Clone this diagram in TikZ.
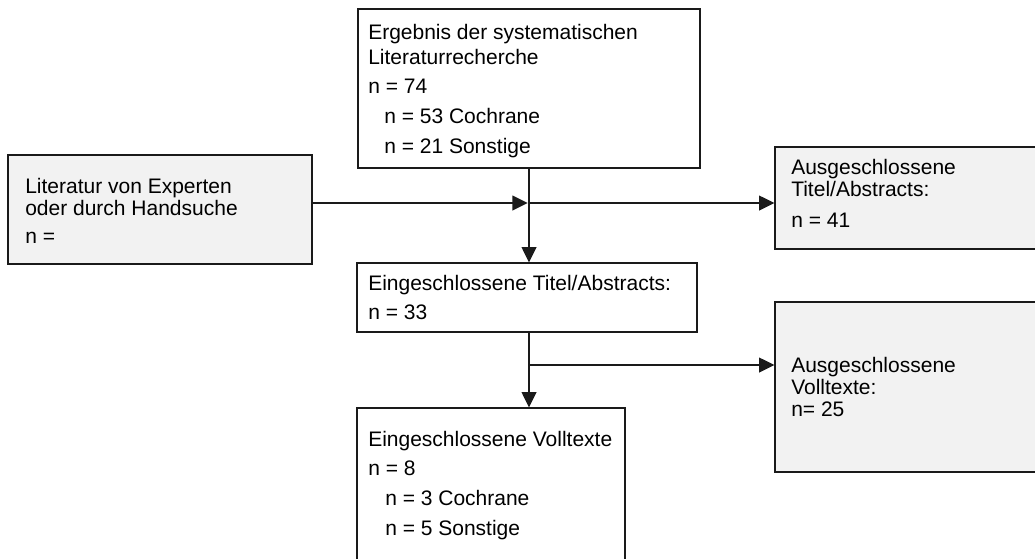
\documentclass[tikz,border=0pt]{standalone}
\usepackage{fontspec}
\setmainfont{Liberation Sans}
\usetikzlibrary{arrows.meta,fit}
\definecolor{boxgrey}{HTML}{F2F2F2}
\definecolor{linegrey}{HTML}{1A1A1A}
\begin{document}
\begin{tikzpicture}[x=0.75pt,y=-0.75pt,
  box/.style={draw=linegrey,line width=0.9pt,fill=white,inner sep=0pt},
  greybox/.style={box,fill=boxgrey},
  txt/.style={anchor=base west,inner sep=0pt,font=\fontsize{15.75}{18}\selectfont,text=black},
  conn/.style={draw=linegrey,line width=1.4pt,-{Triangle[length=11.5pt,width=11pt]}}]
\useasboundingbox (0,0) rectangle (1035,558);
\clip (0,0) rectangle (1035,558);

% boxes
\node[box,fit={(358,9) (700,168)}] (top) {};
\node[greybox,fit={(8,155) (312,264)}] (left) {};
\node[greybox,fit={(775,147) (1045,249)}] (rtop) {};
\node[box,fit={(357,263) (697,332)}] (mid) {};
\node[greybox,fit={(775,302) (1045,472)}] (rbot) {};
\node[box,fit={(357,408) (625,575)}] (bot) {};

% texts
\node[txt] (t1) at (368,39) {Ergebnis der systematischen};
\node[txt] (t2) at (368,64) {Literaturrecherche};
\node[txt] (t3) at (368,93) {n = 74};
\node[txt] (t4) at (384,123) {n = 53 Cochrane};
\node[txt] (t5) at (384,153) {n = 21 Sonstige};

\node[txt] (l1) at (25,193) {Literatur von Experten};
\node[txt] (l2) at (25,215) {oder durch Handsuche};
\node[txt] (l3) at (25,243) {n =};

\node[txt] (r1) at (791,174) {Ausgeschlossene};
\node[txt] (r2) at (791,196) {Titel/Abstracts:};
\node[txt] (r3) at (791,227) {n = 41};

\node[txt] (m1) at (368,290) {Eingeschlossene Titel/Abstracts:};
\node[txt] (m2) at (368,319) {n = 33};

\node[txt] (s1) at (791,372) {Ausgeschlossene};
\node[txt] (s2) at (791,394) {Volltexte:};
\node[txt] (s3) at (791,416) {n= 25};

\node[txt] (b1) at (368,446) {Eingeschlossene Volltexte};
\node[txt] (b2) at (368,475) {n = 8};
\node[txt] (b3) at (385,505) {n = 3 Cochrane};
\node[txt] (b4) at (385,535) {n = 5 Sonstige};

% connectors
\coordinate (j1) at (529,203);
\coordinate (j2) at (529,365);
\draw[conn] (left.east |- j1) -- ([xshift=-1pt]j1);
\draw[conn] (top.south -| j1) -- (mid.north -| j1);
\draw[conn] (j1) -- (rtop.west |- j1);
\draw[conn] (mid.south -| j2) -- (bot.north -| j2);
\draw[conn] (j2) -- (rbot.west |- j2);
\end{tikzpicture}
\end{document}
